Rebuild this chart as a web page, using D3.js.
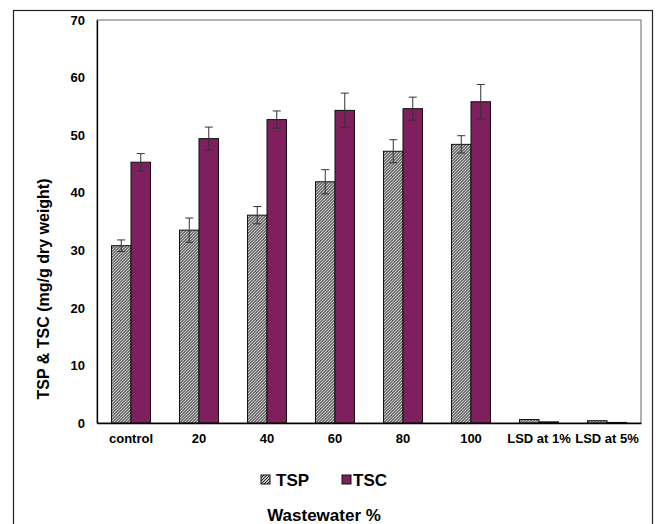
<!DOCTYPE html>
<html>
<head>
<meta charset="utf-8">
<script src="https://cdn.jsdelivr.net/npm/d3@7/dist/d3.min.js"></script>
<style>
  html, body { margin: 0; padding: 0; background: #fff; }
  svg { display: block; }
  text { font-family: "Liberation Sans", Arial, sans-serif; font-weight: bold; fill: #000; }
</style>
</head>
<body>
<script>
// Categories and measured values (mg/g dry weight)
const categories = ["control", "20", "40", "60", "80", "100", "LSD at 1%", "LSD at 5%"];
const seriesNames = ["TSP", "TSC"];
const tspValues = [30.8, 33.5, 36.1, 41.9, 47.2, 48.4, 0.6, 0.4];
const tscValues = [45.3, 49.4, 52.7, 54.3, 54.6, 55.8, 0.2, 0.1];
const tspErrors = [1.0, 2.1, 1.5, 2.1, 2.0, 1.5, null, null];
const tscErrors = [1.5, 2.0, 1.5, 3.0, 2.0, 3.0, null, null];
const yTicks = [0, 10, 20, 30, 40, 50, 60, 70];

const W = 658, H = 524;
const plot = { left: 97, right: 641, top: 20, bottom: 423 };
const FONT = "Liberation Sans, Arial, sans-serif";

const svg = d3.select("body").append("svg").attr("width", W).attr("height", H);

// Fine diagonal hatch used for TSP
const defs = svg.append("defs");
const pat = defs.append("pattern")
  .attr("id", "hatch").attr("patternUnits", "userSpaceOnUse")
  .attr("width", 3).attr("height", 3);
pat.append("rect").attr("width", 3).attr("height", 3).attr("fill", "#c4c4c4");
pat.append("path").attr("d", "M-1,1 L1,-1 M0,3 L3,0 M2,4 L4,2")
  .attr("stroke", "#262626").attr("stroke-width", 1);

const colors = { TSP: "url(#hatch)", TSC: "#7f1f5e" };

// Outer frame
svg.append("rect").attr("x", 13.5).attr("y", 10.5).attr("width", 639).attr("height", 530)
  .attr("fill", "none").attr("stroke", "#222").attr("stroke-width", 1.2);

const x = d3.scaleBand().domain(categories).range([plot.left, plot.right]).padding(0);
const xi = d3.scaleBand().domain(seriesNames).range([0, 39]);
const y = d3.scaleLinear().domain([0, 70]).range([plot.bottom, plot.top]);

// Plot area box
svg.append("rect").attr("x", plot.left).attr("y", plot.top)
  .attr("width", plot.right - plot.left).attr("height", plot.bottom - plot.top)
  .attr("fill", "none").attr("stroke", "#666").attr("stroke-width", 1);

const rows = categories.map((c, i) => ({
  cat: c,
  vals: [
    { s: "TSP", v: tspValues[i], e: tspErrors[i] },
    { s: "TSC", v: tscValues[i], e: tscErrors[i] }
  ]
}));

const groups = svg.append("g").selectAll("g").data(rows).join("g")
  .attr("transform", d => `translate(${x(d.cat) + (x.bandwidth() - 39) / 2},0)`);

groups.selectAll("rect").data(d => d.vals).join("rect")
  .attr("x", d => xi(d.s))
  .attr("y", d => y(d.v))
  .attr("width", xi.bandwidth())
  .attr("height", d => y(0) - y(d.v))
  .attr("fill", d => colors[d.s])
  .attr("stroke", "#111").attr("stroke-width", 1);

// Error bars
const eb = groups.selectAll("g.err").data(d => d.vals.filter(v => v.e != null)).join("g")
  .attr("class", "err")
  .attr("stroke", "#333").attr("stroke-width", 1);
eb.append("line")
  .attr("x1", d => xi(d.s) + xi.bandwidth() / 2).attr("x2", d => xi(d.s) + xi.bandwidth() / 2)
  .attr("y1", d => y(d.v + d.e)).attr("y2", d => y(d.v - d.e));
eb.append("line")
  .attr("x1", d => xi(d.s) + xi.bandwidth() / 2 - 4).attr("x2", d => xi(d.s) + xi.bandwidth() / 2 + 4)
  .attr("y1", d => y(d.v + d.e)).attr("y2", d => y(d.v + d.e));
eb.append("line")
  .attr("x1", d => xi(d.s) + xi.bandwidth() / 2 - 4).attr("x2", d => xi(d.s) + xi.bandwidth() / 2 + 4)
  .attr("y1", d => y(d.v - d.e)).attr("y2", d => y(d.v - d.e));

// Axes
const yAxis = svg.append("g").attr("transform", `translate(${plot.left},0)`)
  .call(d3.axisLeft(y).tickValues(yTicks).tickSize(0).tickPadding(12).tickFormat(d3.format("d")));
yAxis.select(".domain").attr("stroke", "#000").attr("stroke-width", 1.3);
yAxis.selectAll("text").attr("font-size", 13).attr("font-family", FONT).attr("font-weight", "bold");

const xAxis = svg.append("g").attr("transform", `translate(0,${plot.bottom})`)
  .call(d3.axisBottom(x).tickSize(0).tickPadding(11));
xAxis.select(".domain").attr("stroke", "#000").attr("stroke-width", 1.3);
xAxis.selectAll("text").attr("font-size", 13).attr("font-family", FONT).attr("font-weight", "bold");

// Axis titles
svg.append("text")
  .attr("transform", `translate(49,289) rotate(-90)`)
  .attr("text-anchor", "middle").attr("font-size", 16)
  .text("TSP & TSC (mg/g dry weight)");

svg.append("text").attr("x", 324).attr("y", 521)
  .attr("text-anchor", "middle").attr("font-size", 17)
  .text("Wastewater %");

// Legend
const legend = svg.append("g").selectAll("g").data(seriesNames).join("g")
  .attr("transform", (d, i) => `translate(${261 + i * 81},475)`);
legend.append("rect").attr("width", 9).attr("height", 9)
  .attr("fill", d => colors[d]).attr("stroke", "#111").attr("stroke-width", 1);
legend.append("text").attr("x", (d, i) => i === 0 ? 15 : 11).attr("y", 11).attr("font-size", 17)
  .text(d => d);
</script>
</body>
</html>
